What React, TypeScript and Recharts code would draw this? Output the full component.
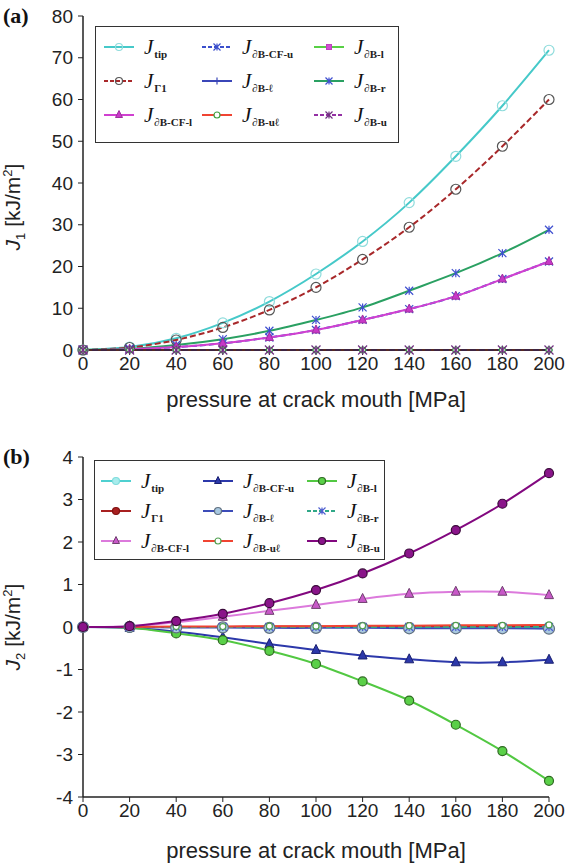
import React from 'react'
import { LineChart, Line, XAxis, YAxis } from 'recharts'

// pressure at crack mouth [MPa]
const pressure = [0, 20, 40, 60, 80, 100, 120, 140, 160, 180, 200]

// panel (a) J1 [kJ/m2]
const tipA = [0, 0.7, 2.8, 6.5, 11.6, 18.2, 26.0, 35.3, 46.4, 58.5, 71.8]
const gamma1A = [0, 0.6, 2.4, 5.4, 9.6, 15.0, 21.7, 29.4, 38.5, 48.8, 60.0]
const cfUA = [0, 0.2, 0.7, 1.6, 3.0, 4.8, 7.2, 9.8, 12.9, 17.0, 21.2]
const cfLA = [0, 0.2, 0.7, 1.6, 3.0, 4.8, 7.2, 9.8, 12.9, 17.0, 21.2]
const bLowA = [0, 0, 0, 0, 0, 0, 0, 0, 0, 0, 0]
const bLeftA = [0, 0, 0, 0, 0, 0, 0, 0, 0, 0, 0]
const bRightA = [0, 0.3, 1.2, 2.6, 4.6, 7.2, 10.2, 14.2, 18.4, 23.2, 28.8]
const bUpLeftA = [0, 0, 0, 0, 0, 0, 0, 0, 0, 0, 0]
const bUpA = [0, 0, 0, 0, 0, 0, 0, 0, 0, 0, 0]

// panel (b) J2 [kJ/m2]
const tipB = [0, 0, 0, 0, 0, 0, 0, 0, 0, 0, 0]
const gamma1B = [0, 0, 0, 0, 0.01, 0.01, 0.01, 0.02, 0.02, 0.02, 0.02]
const cfUB = [0, -0.02, -0.11, -0.24, -0.4, -0.54, -0.67, -0.76, -0.83, -0.83, -0.77]
const cfLB = [0, 0.02, 0.11, 0.24, 0.38, 0.52, 0.66, 0.78, 0.83, 0.83, 0.75]
const bLowB = [0, -0.02, -0.15, -0.31, -0.56, -0.87, -1.28, -1.73, -2.3, -2.92, -3.62]
const bLeftB = [0, 0, -0.01, -0.01, -0.02, -0.02, -0.02, -0.03, -0.03, -0.03, -0.04]
const bRightB = [0, 0, 0, 0, 0, 0, 0, 0, 0, 0, 0]
const bUpLeftB = [0, 0, 0.01, 0.01, 0.02, 0.02, 0.03, 0.03, 0.04, 0.04, 0.05]
const bUpB = [0, 0.02, 0.14, 0.31, 0.56, 0.87, 1.26, 1.73, 2.28, 2.9, 3.62]

const xTicks = [0, 20, 40, 60, 80, 100, 120, 140, 160, 180, 200]
const yTicksA = [0, 10, 20, 30, 40, 50, 60, 70, 80]
const yTicksB = [-4, -3, -2, -1, 0, 1, 2, 3, 4]

type Mk = { shape: string, stroke: string, fill: string, r: number }
type Series = { key: string, sub: string, color: string, dash?: string, mk: Mk, values: number[] }

const seriesA: Series[] = [
  { key: 'tip', sub: 'tip', color: '#46c9c9', mk: { shape: 'circle', stroke: '#8fdcdc', fill: 'none', r: 5 }, values: tipA },
  { key: 'cfu', sub: '∂B-CF-u', color: '#3b4fcc', dash: '6 3', mk: { shape: 'star', stroke: '#3b4fcc', fill: 'none', r: 4 }, values: cfUA },
  { key: 'bl', sub: '∂B-l', color: '#58d045', mk: { shape: 'square', stroke: '#c040c0', fill: '#d050d0', r: 2.5 }, values: bLowA },
  { key: 'g1', sub: 'Γ1', color: '#a8282a', dash: '6 3', mk: { shape: 'circle', stroke: '#555', fill: 'none', r: 5 }, values: gamma1A },
  { key: 'bell', sub: '∂B-ℓ', color: '#3a46b8', mk: { shape: 'plus', stroke: '#3a46b8', fill: 'none', r: 4 }, values: bLeftA },
  { key: 'br', sub: '∂B-r', color: '#2aa062', mk: { shape: 'star', stroke: '#4050d0', fill: 'none', r: 4 }, values: bRightA },
  { key: 'cfl', sub: '∂B-CF-l', color: '#d040d0', mk: { shape: 'tri', stroke: '#a030a0', fill: '#c838c8', r: 4 }, values: cfLA },
  { key: 'bul', sub: '∂B-uℓ', color: '#f04432', mk: { shape: 'circle', stroke: '#40a040', fill: '#fff', r: 3 }, values: bUpLeftA },
  { key: 'bu', sub: '∂B-u', color: '#9430a4', dash: '6 3', mk: { shape: 'star', stroke: '#703080', fill: 'none', r: 4.5 }, values: bUpA },
]

const seriesB: Series[] = [
  { key: 'tip', sub: 'tip', color: '#4fd0d0', mk: { shape: 'circle', stroke: '#7fdcdc', fill: '#a8ecec', r: 3.5 }, values: tipB },
  { key: 'cfu', sub: '∂B-CF-u', color: '#2c38aa', mk: { shape: 'tri', stroke: '#1a2070', fill: '#2c38aa', r: 4.5 }, values: cfUB },
  { key: 'bl', sub: '∂B-l', color: '#52c842', mk: { shape: 'circle', stroke: '#2f6a22', fill: '#5ad048', r: 4.5 }, values: bLowB },
  { key: 'g1', sub: 'Γ1', color: '#a82020', mk: { shape: 'circle', stroke: '#801010', fill: '#a82020', r: 3.5 }, values: gamma1B },
  { key: 'bell', sub: '∂B-ℓ', color: '#3c4cb8', mk: { shape: 'circle', stroke: '#607080', fill: '#a8c8e0', r: 5.5 }, values: bLeftB },
  { key: 'br', sub: '∂B-r', color: '#30a888', dash: '6 3', mk: { shape: 'star', stroke: '#5060d0', fill: 'none', r: 4 }, values: bRightB },
  { key: 'cfl', sub: '∂B-CF-l', color: '#dc7adc', mk: { shape: 'tri', stroke: '#704070', fill: '#c858c8', r: 4.5 }, values: cfLB },
  { key: 'bul', sub: '∂B-uℓ', color: '#f04432', mk: { shape: 'circle', stroke: '#50a050', fill: '#fff', r: 3 }, values: bUpLeftB },
  { key: 'bu', sub: '∂B-u', color: '#82087f', mk: { shape: 'circle', stroke: '#3a0a3a', fill: '#8a148a', r: 4.5 }, values: bUpB },
]

const drawMarker = (m: Mk, cx: number, cy: number, key?: any) => {
  const r = m.r
  if (m.shape === 'circle') return <circle key={key} cx={cx} cy={cy} r={r} stroke={m.stroke} fill={m.fill} strokeWidth={1.2} />
  if (m.shape === 'square') return <rect key={key} x={cx - r} y={cy - r} width={2 * r} height={2 * r} stroke={m.stroke} fill={m.fill} />
  if (m.shape === 'tri') return <path key={key} d={`M${cx},${cy - r - 1}L${cx + r},${cy + r - 1}L${cx - r},${cy + r - 1}Z`} stroke={m.stroke} fill={m.fill} strokeWidth={1} />
  if (m.shape === 'plus') return <path key={key} d={`M${cx - r},${cy}H${cx + r}M${cx},${cy - r}V${cy + r}`} stroke={m.stroke} strokeWidth={1.2} />
  return <path key={key} d={`M${cx - r},${cy - r}L${cx + r},${cy + r}M${cx - r},${cy + r}L${cx + r},${cy - r}M${cx},${cy - r}V${cy + r}`} stroke={m.stroke} strokeWidth={1.2} fill="none" />
}

const dotFor = (m: Mk) => (p: any) => {
  if (p.cx == null || p.cy == null) return <g key={p.index} />
  return drawMarker(m, p.cx, p.cy, p.index)
}

const buildRows = (list: Series[]) => pressure.map((x, i) => {
  const row: any = { x }
  list.forEach(s => { row[s.key] = s.values[i] })
  return row
})

const sans = '"Liberation Sans", Arial, sans-serif'
const serif = '"Liberation Serif", "Times New Roman", serif'

const LegendBox = ({ list, style, rowH, colX }: { list: Series[], style: any, rowH: number, colX: number[] }) => (
  <div style={{ position: 'absolute', border: '1.5px solid #333', background: '#fff', boxSizing: 'border-box', ...style }}>
    {list.map((s, i) => {
      const col = i % 3, row = Math.floor(i / 3)
      return (
        <div key={s.key} style={{ position: 'absolute', left: colX[col], top: 8 + row * rowH, height: 24, display: 'flex', alignItems: 'center', whiteSpace: 'nowrap' }}>
          <svg width={30} height={14} style={{ marginRight: 10 }}>
            <line x1={0} y1={7} x2={30} y2={7} stroke={s.color} strokeWidth={2} strokeDasharray={s.dash ? '4 2' : undefined} />
            {drawMarker({ ...s.mk, r: Math.min(s.mk.r, 3.5) }, 15, 7)}
          </svg>
          <span style={{ fontFamily: serif, fontStyle: 'italic', fontSize: 21, color: '#111' }}>J</span>
          <span style={{ fontFamily: serif, fontWeight: 'bold', fontSize: 11, color: '#222', position: 'relative', top: 7, marginLeft: 1 }}>{s.sub}</span>
        </div>
      )
    })}
  </div>
)

const YLabel = ({ x, y, idx }: { x: number, y: number, idx: string }) => (
  <text x={x} y={y} transform={`rotate(-90 ${x} ${y})`} textAnchor="middle" fontFamily={sans} fontSize={21} fill="#222">
    <tspan fontStyle="italic">J</tspan>
    <tspan fontSize={13} dy={5}>{idx}</tspan>
    <tspan dy={-5}> [kJ/m</tspan>
    <tspan fontSize={13} dy={-8}>2</tspan>
    <tspan dy={8}>]</tspan>
  </text>
)

const Panel = ({ list, top, height, mTop, xH, domain, yTicks, tag, idx, labelY }: any) => (
  <div style={{ position: 'absolute', left: 0, top, width: 567, height }}>
    <LineChart width={567} height={height} data={buildRows(list)} margin={{ top: mTop, right: 18, left: 0, bottom: 0 }}>
      <XAxis dataKey="x" type="number" domain={[0, 200]} ticks={xTicks} height={xH} axisLine={{ stroke: '#222', strokeWidth: 1.5 }}
        tickLine={{ stroke: '#222' }} tickSize={5} tick={{ fontFamily: sans, fontSize: 19, fill: '#222' }} interval={0} />
      <YAxis type="number" domain={domain} ticks={yTicks} width={83} axisLine={{ stroke: '#222', strokeWidth: 1.5 }}
        tickLine={{ stroke: '#222' }} tickSize={5} tickMargin={5} tick={{ fontFamily: sans, fontSize: 19, fill: '#222' }} interval={0} />
      {list.map((s: Series) => (
        <Line key={s.key} dataKey={s.key} type="natural" stroke={s.color} strokeWidth={2} strokeDasharray={s.dash}
          dot={dotFor(s.mk)} activeDot={false} isAnimationActive={false} />
      ))}
      <YLabel x={20} y={labelY - top} idx={idx} />
      <text x={3} y={mTop + 7} fontFamily={serif} fontWeight="bold" fontSize={22} fill="#111">{tag}</text>
    </LineChart>
  </div>
)

const AxisTitle = ({ y }: { y: number }) => (
  <div style={{ position: 'absolute', left: 83, width: 466, top: y - 14, height: 28, lineHeight: '28px', textAlign: 'center',
    fontFamily: sans, fontSize: 22, color: '#222', whiteSpace: 'nowrap' }}>pressure at crack mouth [MPa]</div>
)

const App = () => {
  return (
    <div style={{ position: 'absolute', left: 0, top: 0, width: 567, height: 864, background: '#fff', overflow: 'hidden' }}>
      <Panel list={seriesA} top={0} height={410} mTop={16} xH={60} domain={[0, 80]} yTicks={yTicksA} tag="(a)" idx="1" labelY={207} />
      <Panel list={seriesB} top={410} height={454} mTop={47} xH={67} domain={[-4, 4]} yTicks={yTicksB} tag="(b)" idx="2" labelY={627} />
      <AxisTitle y={400} />
      <AxisTitle y={851} />
      <LegendBox list={seriesA} style={{ left: 95, top: 26, width: 304, height: 117 }} rowH={34} colX={[8, 106, 218]} />
      <LegendBox list={seriesB} style={{ left: 94, top: 460, width: 291, height: 100 }} rowH={30} colX={[6, 108, 212]} />
    </div>
  )
}

export default App
